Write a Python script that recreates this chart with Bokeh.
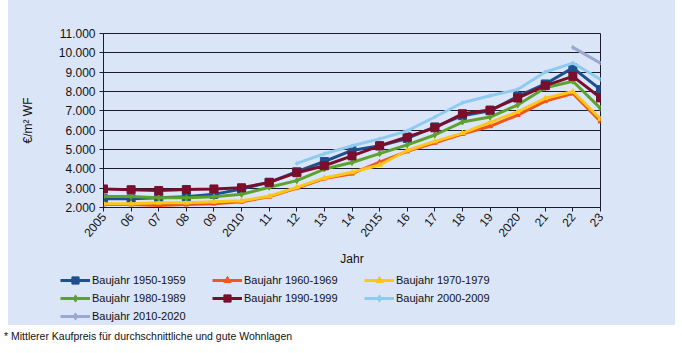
from bokeh.plotting import figure
from bokeh.models import (FixedTicker, Legend, LegendItem, Range1d, Div)
from bokeh.layouts import column, row
from bokeh.embed import file_html
from bokeh.resources import INLINE
import math

# ---- data ----
years = list(range(2005, 2024))
bj1950 = [2450, 2450, 2500, 2550, 2680, 2960, 3300, 3850, 4380, 4950, 5190, 5570, 6170, 6750, 7000, 7750, 8390, 9220, 8100]
bj1960 = [2150, 2150, 2100, 2150, 2200, 2300, 2550, 3000, 3500, 3750, 4350, 4900, 5350, 5800, 6200, 6780, 7500, 7900, 6450]
bj1970 = [2200, 2200, 2250, 2250, 2300, 2350, 2580, 3040, 3530, 3820, 4200, 4950, 5420, 5850, 6400, 6950, 7650, 8000, 6580]
bj1980 = [2570, 2570, 2500, 2500, 2560, 2680, 3050, 3390, 3990, 4330, 4790, 5240, 5750, 6420, 6680, 7300, 8190, 8530, 7130]
bj1990 = [2960, 2920, 2880, 2930, 2960, 3020, 3300, 3800, 4160, 4670, 5190, 5650, 6120, 6850, 7040, 7660, 8300, 8780, 7670]
years2000 = list(range(2012, 2024))
bj2000 = [4280, 4780, 5190, 5550, 5960, 6680, 7420, 7780, 8100, 9010, 9470, 8620]
years2010 = [2022, 2023]
bj2010 = [10280, 9470]

x_tick_labels = ["2005", "06", "07", "08", "09", "2010", "11", "12", "13", "14",
                 "2015", "16", "17", "18", "19", "2020", "21", "22", "23"]
y_ticks = [2000, 3000, 4000, 5000, 6000, 7000, 8000, 9000, 10000, 11000]
y_tick_labels = ["2.000", "3.000", "4.000", "5.000", "6.000", "7.000", "8.000", "9.000", "10.000", "11.000"]

series = [
    ("Baujahr 1950-1959", years, bj1950, "#1f4f8f", "square", 8),
    ("Baujahr 1960-1969", years, bj1960, "#f2561d", "triangle", 5),
    ("Baujahr 1970-1979", years, bj1970, "#ffc61a", "triangle", 5),
    ("Baujahr 1980-1989", years, bj1980, "#5da22d", "diamond", 6),
    ("Baujahr 1990-1999", years, bj1990, "#7a0f2c", "square", 8),
    ("Baujahr 2000-2009", years2000, bj2000, "#8ecbf0", "diamond", 4),
    ("Baujahr 2010-2020", years2010, bj2010, "#9aa9d1", "diamond", 4),
]

BG = "#dbe5f8"
FONT = "Liberation Sans"
DARK = "#1c1c30"

# ---- main chart ----
p = figure(width=667, height=268, output_backend="svg", toolbar_location=None,
           x_range=Range1d(2005, 2023), y_range=Range1d(2000, 11000),
           min_border_left=95, min_border_right=75, min_border_top=33, min_border_bottom=61,
           background_fill_color=BG, border_fill_color=BG)
p.outline_line_color = DARK
p.outline_line_width = 1

p.xgrid.grid_line_color = None
p.ygrid.grid_line_color = DARK
p.ygrid.grid_line_width = 1

p.yaxis.ticker = FixedTicker(ticks=y_ticks)
p.yaxis.major_label_overrides = {t: l for t, l in zip(y_ticks, y_tick_labels)}
p.xaxis.ticker = FixedTicker(ticks=years)
p.xaxis.major_label_overrides = {y: l for y, l in zip(years, x_tick_labels)}
p.xaxis.major_label_orientation = math.radians(50)

for ax in (p.xaxis, p.yaxis):
    ax.axis_line_color = DARK
    ax.major_tick_line_color = DARK
    ax.major_tick_out = 4
    ax.major_tick_in = 0
    ax.minor_tick_line_color = None
    ax.major_label_text_font = FONT
    ax.major_label_text_font_size = "12px"
    ax.major_label_text_color = "#111111"
    ax.axis_label_text_font = FONT
    ax.axis_label_text_font_size = "12px"
    ax.axis_label_text_font_style = "normal"
    ax.axis_label_text_color = "#111111"

p.yaxis.axis_label = "€/m² WF"
p.yaxis.axis_label_standoff = 21
p.yaxis.major_label_standoff = 4
p.xaxis.axis_label = "Jahr"
p.xaxis.axis_label_standoff = 8
p.xaxis.major_label_standoff = 3

for name, xs, ys, color, marker, size in series:
    p.line(xs, ys, line_color=color, line_width=3)
    p.scatter(xs, ys, marker=marker, size=size, fill_color=color, line_color=color)

# ---- legend strip (glyph samples only, hidden renderers) ----
lg = figure(width=667, height=57, output_backend="svg", toolbar_location=None,
            x_range=Range1d(0, 1), y_range=Range1d(0, 1),
            min_border_left=0, min_border_right=0, min_border_top=0, min_border_bottom=0,
            background_fill_color=BG, border_fill_color=BG)
lg.axis.visible = False
lg.grid.visible = False
lg.outline_line_color = None

items = []
for name, xs, ys, color, marker, size in series:
    r1 = lg.line(xs, ys, line_color=color, line_width=3, visible=False)
    r2 = lg.scatter(xs, ys, marker=marker, size=size, fill_color=color, line_color=color, visible=False)
    items.append(LegendItem(label=name, renderers=[r1, r2]))

legend = Legend(items=items, orientation="horizontal", ncols=3,
                location=(52, 0), padding=0, margin=0, spacing=0,
                glyph_width=30, glyph_height=18, label_height=18, label_width=120,
                label_standoff=2, border_line_color=None, background_fill_alpha=0,
                label_text_font=FONT, label_text_font_size="11px", label_text_color="#111111")
lg.add_layout(legend, "center")

panel = column(row(p), row(lg), spacing=0, width=667, height=325,
               styles={"background-color": BG})
panel.margin = (0, 7, 0, 8)

note = Div(text="* Mittlerer Kaufpreis für durchschnittliche und gute Wohnlagen",
           width=682, height=28,
           styles={"font-family": FONT, "font-size": "10.5px", "color": "#111111",
                   "padding-left": "4px", "padding-top": "4px"})
note.margin = (0, 0, 0, 0)

layout = column(panel, note, spacing=0)
layout.margin = (0, 0, 0, 0)
open("out.html", "w").write(file_html(layout, INLINE))
